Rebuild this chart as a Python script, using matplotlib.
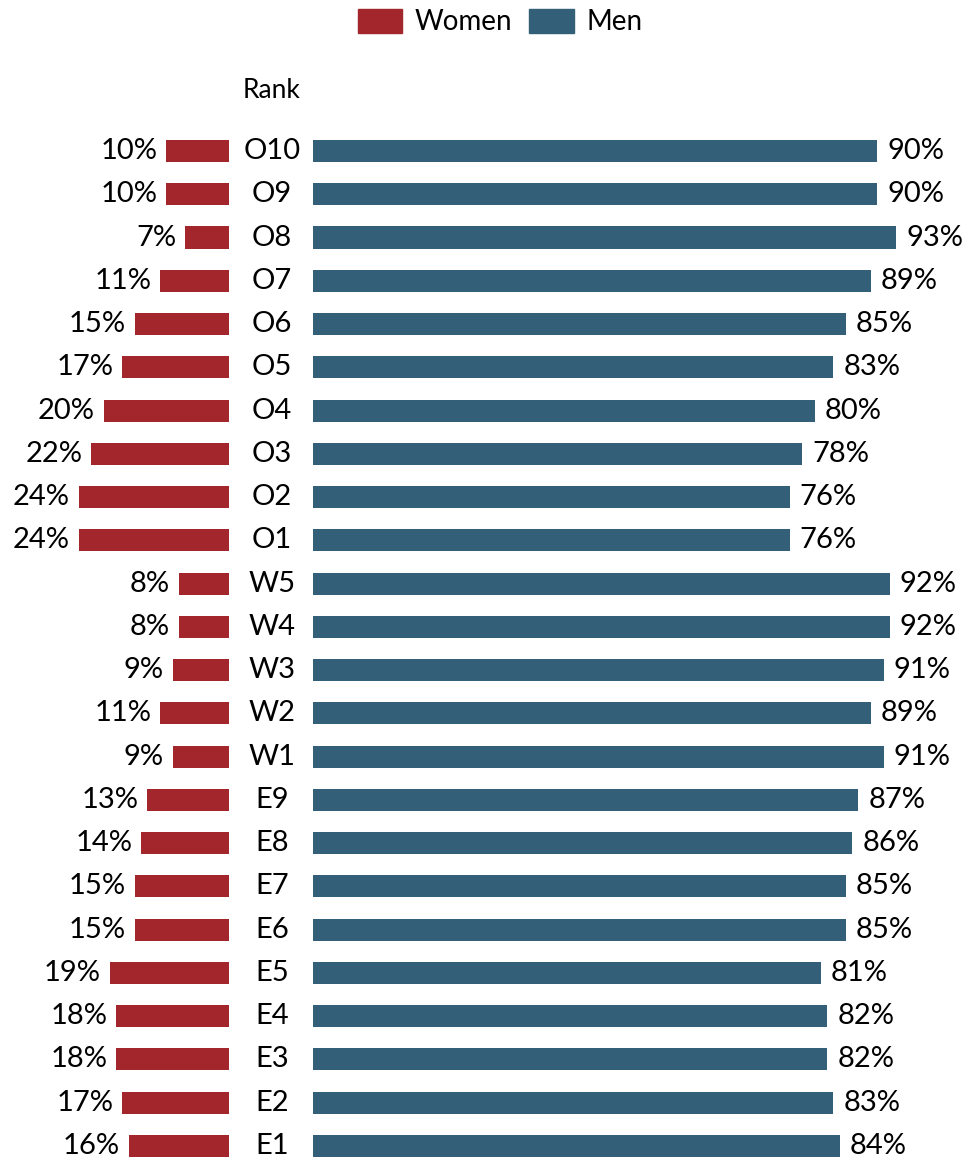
import numpy as np
import matplotlib.pyplot as plt
from matplotlib.patches import Patch

plt.rcParams['font.family'] = ['Lato', 'DejaVu Sans']

# Share of each rank by gender (percent)
ranks = ['O10', 'O9', 'O8', 'O7', 'O6', 'O5', 'O4', 'O3', 'O2', 'O1',
         'W5', 'W4', 'W3', 'W2', 'W1',
         'E9', 'E8', 'E7', 'E6', 'E5', 'E4', 'E3', 'E2', 'E1']
women = [10, 10, 7, 11, 15, 17, 20, 22, 24, 24,
         8, 8, 9, 11, 9,
         13, 14, 15, 15, 19, 18, 18, 17, 16]
men = [90, 90, 93, 89, 85, 83, 80, 78, 76, 76,
       92, 92, 91, 89, 91,
       87, 86, 85, 85, 81, 82, 82, 83, 84]

red = '#a3262d'
blue = '#336078'

W, H = 971, 1160
px_per_pct = 6.27
women_edge = 229          # pixel where women bars end
men_start = (313 - 229) / px_per_pct
label_x = (272 - 229) / px_per_pct
row_px = 43.26
top_row = 151

fig = plt.figure(figsize=(W / 100, H / 100), dpi=100)
ax = fig.add_axes([0, 0, 1, 1])
ax.set_xlim(-women_edge / px_per_pct, (W - women_edge) / px_per_pct)
ax.set_ylim((H - top_row) / row_px, -top_row / row_px)
ax.axis('off')

y = np.arange(len(ranks))
ax.barh(y, [-v for v in women], left=0, height=0.51, color=red)
ax.barh(y, men, left=men_start, height=0.51, color=blue)

for i, (r, wv, mv) in enumerate(zip(ranks, women, men)):
    ax.text(-wv - 1.4, i, f'{wv}%', ha='right', va='center', fontsize=21)
    ax.text(label_x, i, r, ha='center', va='center', fontsize=21)
    ax.text(men_start + mv + 1.6, i, f'{mv}%', ha='left', va='center', fontsize=21)

ax.text(label_x, -1.4, 'Rank', ha='center', va='center', fontsize=19)

handles = [Patch(color=red, label='Women'), Patch(color=blue, label='Men')]
fig.legend(handles=handles, loc='center', bbox_to_anchor=(0.515, 1 - 22 / H),
           ncol=2, frameon=False, fontsize=20, handlelength=1.6, handleheight=0.95,
           columnspacing=0.6, handletextpad=0.45)

fig.savefig('out.png', dpi=100)
